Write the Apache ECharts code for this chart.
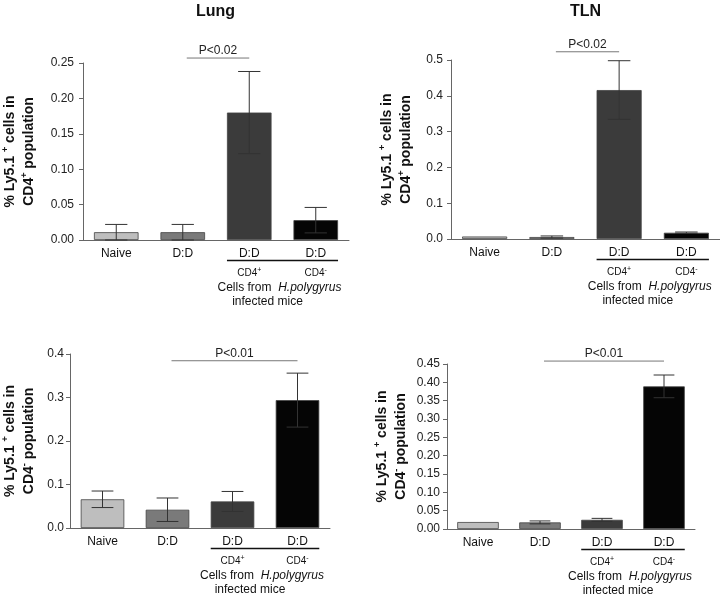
<!DOCTYPE html>
<html>
<head>
<meta charset="utf-8">
<script src="https://cdn.jsdelivr.net/npm/echarts@6/dist/echarts.min.js"></script>
<style>html,body{margin:0;padding:0;background:#fff}#c{width:720px;height:596px}</style>
</head>
<body>
<div id="c"></div>
<script>
// ---- data ----
const categories = ['Naive', 'D:D', 'D:D', 'D:D'];
const panelTitles = ['Lung', 'TLN', '', ''];
const lungCD4pos_mean = [0.011, 0.011, 0.180, 0.028];
const lungCD4pos_err  = [0.011, 0.011, 0.058, 0.018];
const tlnCD4pos_mean  = [0.007, 0.0055, 0.416, 0.0175];
const tlnCD4pos_err   = [0, 0.003, 0.082, 0.002];
const lungCD4neg_mean = [0.066, 0.042, 0.061, 0.294];
const lungCD4neg_err  = [0.019, 0.027, 0.023, 0.062];
const tlnCD4neg_mean  = [0.019, 0.018, 0.025, 0.389];
const tlnCD4neg_err   = [0, 0.004, 0.004, 0.031];
const ticks0 = ['0.00', '0.05', '0.10', '0.15', '0.20', '0.25'];
const ticks1 = ['0.0', '0.1', '0.2', '0.3', '0.4', '0.5'];
const ticks2 = ['0.0', '0.1', '0.2', '0.3', '0.4'];
const ticks3 = ['0.00', '0.05', '0.10', '0.15', '0.20', '0.25', '0.30', '0.35', '0.40', '0.45'];
const pLabels = ['P<0.02', 'P<0.02', 'P<0.01', 'P<0.01'];
const pFrom = [1, 1, 1, 1];
const pTo = [2, 2, 3, 3];
const pLevel = [0.257, 0.523, 0.3845, 0.458];
const yInterval = [0.05, 0.1, 0.1, 0.05];
const yMax = [0.25, 0.5, 0.4, 0.45];

// ---- styles ----
const FONT = "'Liberation Sans', Arial, Helvetica, sans-serif";
const barColors = ['#bebebe', '#7a7a7a', '#3b3b3b', '#050505'];
const means = [lungCD4pos_mean, tlnCD4pos_mean, lungCD4neg_mean, tlnCD4neg_mean];
const errs = [lungCD4pos_err, tlnCD4pos_err, lungCD4neg_err, tlnCD4neg_err];
const tickSets = [ticks0, ticks1, ticks2, ticks3];
const supSign = ['+', '+', '-', '-'];
const grids = [
  {left: 82, top: 63, width: 267, height: 177},
  {left: 451, top: 60, width: 269, height: 179},
  {left: 69, top: 354, width: 261, height: 174},
  {left: 447, top: 364, width: 248, height: 165}
];
const nameGaps = [44, 35, 31, 36];
const labelMargins = [9, 8, 6, 7];

const chart = echarts.init(document.getElementById('c'), null, {renderer: 'canvas'});

const xAxes = [], yAxes = [], series = [];
for (let p = 0; p < 4; p++) {
  xAxes.push({
    type: 'category', gridIndex: p, data: categories,
    axisLine: {lineStyle: {color: '#666', width: 1}},
    axisTick: {show: false},
    axisLabel: {color: '#111', fontSize: 12, fontFamily: FONT, margin: 8, interval: 0}
  });
  const ts = tickSets[p];
  yAxes.push({
    type: 'value', gridIndex: p, min: 0, max: yMax[p], interval: yInterval[p],
    splitLine: {show: false},
    axisLine: {show: true, lineStyle: {color: '#666', width: 1}},
    axisTick: {show: true, length: 4, lineStyle: {color: '#666'}},
    axisLabel: {color: '#222', fontSize: 12, fontFamily: FONT, margin: labelMargins[p],
      formatter: (v, i) => ts[i] !== undefined ? ts[i] : ''},
    name: '{t|% Ly5.1 }{s|+}{t| cells in}\n{t|CD4}{s|' + supSign[p] + '}{t| population}',
    nameLocation: 'middle', nameRotate: 90, nameGap: nameGaps[p],
    nameTextStyle: {
      fontFamily: FONT, fontWeight: 'bold', fontSize: 14, color: '#111', lineHeight: 19,
      rich: {
        t: {fontFamily: FONT, fontWeight: 'bold', fontSize: 14, color: '#111', lineHeight: 19},
        s: {fontFamily: FONT, fontWeight: 'bold', fontSize: 9, color: '#111', lineHeight: 19, verticalAlign: 'top'}
      }
    }
  });
  series.push({
    type: 'bar', xAxisIndex: p, yAxisIndex: p, barWidth: '67%',
    data: means[p].map((v, i) => ({value: v, itemStyle: {color: barColors[i]}})),
    itemStyle: {borderColor: '#444', borderWidth: 0.8},
    silent: true, animation: false
  });
  const ebData = means[p].map((m, i) => [i, m - errs[p][i], m + errs[p][i]]);
  series.push({
    type: 'custom', xAxisIndex: p, yAxisIndex: p, data: ebData, animation: false, silent: true, z: 5,
    renderItem: function (params, api) {
      const lo = api.value(1), hi = api.value(2);
      if (hi - lo <= 0) return null;
      const x = api.value(0);
      const a = api.coord([x, hi]);
      const b = api.coord([x, lo]);
      const w = api.size([1, 0])[0] * 0.67 / 4;
      const st = {stroke: '#333', lineWidth: 1};
      return {
        type: 'group',
        children: [
          {type: 'line', shape: {x1: a[0], y1: a[1], x2: b[0], y2: b[1]}, style: st},
          {type: 'line', shape: {x1: a[0] - w, y1: a[1], x2: a[0] + w, y2: a[1]}, style: st},
          {type: 'line', shape: {x1: b[0] - w, y1: b[1], x2: b[0] + w, y2: b[1]}, style: st}
        ]
      };
    }
  });
}

chart.setOption({
  animation: false,
  grid: grids.map(g => Object.assign({containLabel: false}, g)),
  xAxis: xAxes, yAxis: yAxes, series: series
});

// ---- annotations positioned from the chart's own scales ----
const gfx = [];
function px(p, x, y) { return chart.convertToPixel({gridIndex: p}, [x, y]); }
for (let p = 0; p < 4; p++) {
  const base = px(p, 0, 0);
  const axisY = base[1];
  const band = px(p, 1, 0)[0] - base[0];
  const hb = band * 0.335;
  const b3 = px(p, 2, 0)[0], b4 = px(p, 3, 0)[0];
  const mid = (b3 + b4) / 2;
  gfx.push({type: 'line', shape: {x1: b3 - hb, y1: axisY + 20.5, x2: b4 + hb, y2: axisY + 20.5},
    style: {stroke: '#111', lineWidth: 1.6}});
  [[b3, '+'], [b4, '-']].forEach(([x, s]) => {
    gfx.push({type: 'text', x: x, y: axisY + 33, style: {
      text: '{c|CD4}{s|' + s + '}', align: 'center', verticalAlign: 'middle',
      rich: {c: {fontFamily: FONT, fontSize: 10, fill: '#111', lineHeight: 12},
             s: {fontFamily: FONT, fontSize: 7, fill: '#111', lineHeight: 12, verticalAlign: 'top'}}
    }});
  });
  gfx.push({type: 'text', x: mid - 3, y: axisY + 48, style: {
    text: '{a|Cells from  }{b|H.polygyrus}', align: 'center', verticalAlign: 'middle',
    rich: {a: {fontFamily: FONT, fontSize: 12, fill: '#111'},
           b: {fontFamily: FONT, fontSize: 12, fontStyle: 'italic', fill: '#111'}}
  }});
  gfx.push({type: 'text', x: mid - 15, y: axisY + 62, style: {
    text: 'infected mice', align: 'center', verticalAlign: 'middle',
    fontFamily: FONT, fontSize: 12, fill: '#111'
  }});
  const s1 = px(p, pFrom[p], pLevel[p]);
  const s2 = px(p, pTo[p], pLevel[p]);
  gfx.push({type: 'line', shape: {x1: s1[0] + 4, y1: s1[1], x2: s2[0], y2: s2[1]},
    style: {stroke: '#777', lineWidth: 1}});
  gfx.push({type: 'text', x: (s1[0] + 4 + s2[0]) / 2, y: s1[1] - 1, style: {
    text: pLabels[p], align: 'center', verticalAlign: 'bottom',
    fontFamily: FONT, fontSize: 12, fill: '#222'
  }});
  if (panelTitles[p]) {
    gfx.push({type: 'text', x: grids[p].left + grids[p].width / 2, y: 12, style: {
      text: panelTitles[p], align: 'center', verticalAlign: 'middle',
      fontFamily: FONT, fontSize: 16, fontWeight: 'bold', fill: '#111'
    }});
  }
}
chart.setOption({graphic: gfx});
</script>
</body>
</html>
